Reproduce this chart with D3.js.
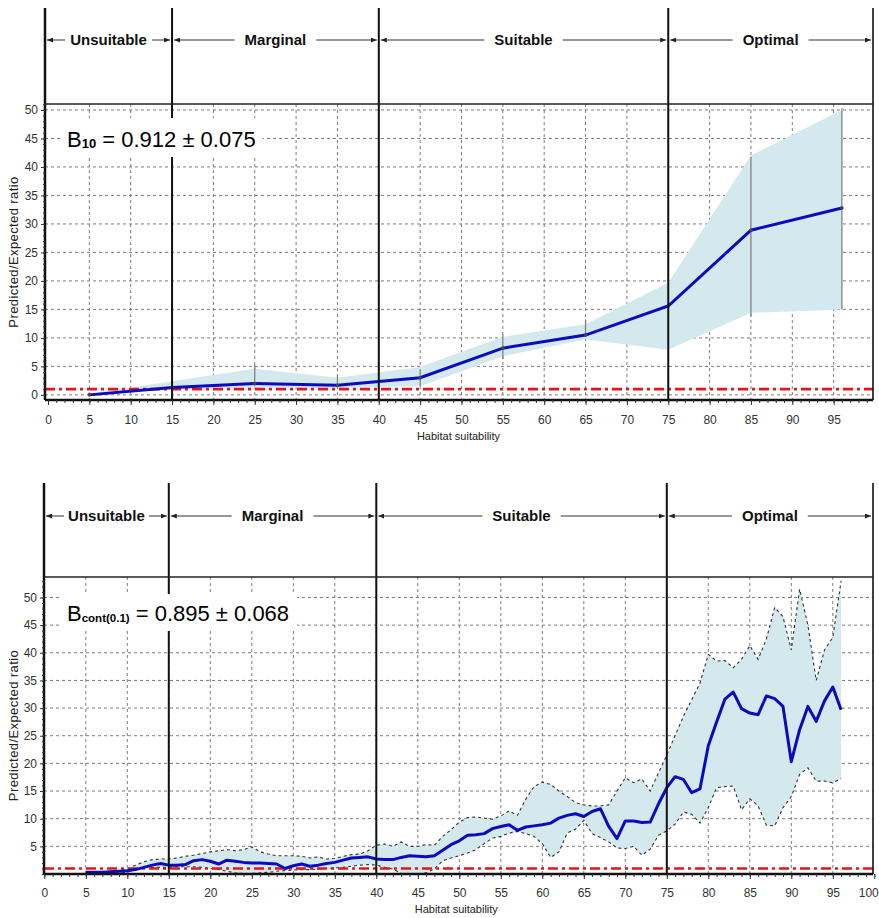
<!DOCTYPE html>
<html>
<head>
<meta charset="utf-8">
<style>
  body { margin: 0; background: #fff; }
  text { font-family: "Liberation Sans", Arial, sans-serif; }
</style>
</head>
<body>
<script src="https://d3js.org/d3.v7.min.js"></script>
<script>

// habitat zones along the suitability axis
var zoneNames  = ["Unsuitable", "Marginal", "Suitable", "Optimal"];
var zoneBreaks = [0, 15, 40, 75, 100];
var randomRatio = 1;   // P/E = 1 line

// upper panel: 10 classes
var binX      = [5, 15, 25, 35, 45, 55, 65, 75, 85, 96];
var binMean   = [0.0, 1.3, 2.0, 1.7, 3.0, 8.2, 10.5, 15.6, 28.9, 32.8];
var binBandHi = [0.2, 2.4, 4.6, 3.0, 4.9, 10.2, 12.4, 19.7, 42.0, 50.0];
var binBandLo = [0.0, 0.9, 1.3, 1.2, 1.5, 6.8, 9.7, 7.9, 14.4, 15.0];
var binErrHi  = [0.3, 2.2, 5.3, 3.4, 4.5, 10.6, 13.2, 15.6, 41.8, 50.3];
var binErrLo  = [0.0, 1.0, 1.5, 1.2, 1.5, 6.3, 10.5, 15.6, 13.8, 15.0];
var labelTop  = ["B", "10", " = 0.912 \u00b1 0.075"];

// lower panel: continuous (moving window)
var contX = [ 5,  6,  7,  8,  9, 10, 11, 12, 13, 14,
             15, 16, 17, 18, 19, 20, 21, 22, 23, 24,
             25, 26, 27, 28, 29, 30, 31, 32, 33, 34,
             35, 36, 37, 38, 39, 40, 41, 42, 43, 44,
             45, 46, 47, 48, 49, 50, 51, 52, 53, 54,
             55, 56, 57, 58, 59, 60, 61, 62, 63, 64,
             65, 66, 67, 68, 69, 70, 71, 72, 73, 74,
             75, 76, 77, 78, 79, 80, 81, 82, 83, 84,
             85, 86, 87, 88, 89, 90, 91, 92, 93, 94,
             95, 96];
var contMean = [0.3, 0.3, 0.3, 0.4, 0.5, 0.6, 0.8, 1.2, 1.6, 1.9,
                1.6, 1.6, 1.7, 2.4, 2.6, 2.3, 1.8, 2.5, 2.3, 2.1,
                2.0, 2.0, 1.9, 1.8, 1.0, 1.5, 1.8, 1.4, 1.6, 1.9,
                2.1, 2.5, 2.9, 3.0, 3.1, 2.7, 2.6, 2.6, 3.0, 3.3,
                3.2, 3.1, 3.3, 4.3, 5.3, 6.0, 7.0, 7.1, 7.3, 8.2,
                8.6, 8.9, 7.9, 8.5, 8.7, 8.9, 9.2, 10.1, 10.6, 10.9,
                10.4, 11.3, 11.8, 8.6, 6.4, 9.6, 9.6, 9.3, 9.4, 12.7,
                15.6, 17.6, 17.1, 14.7, 15.4, 23.2, 27.5, 31.6, 32.9, 29.9,
                29.1, 28.8, 32.2, 31.7, 30.3, 20.3, 26.1, 30.3, 27.6, 31.3,
                33.8, 29.7];
var contHi = [0.3, 0.3, 0.4, 0.5, 0.6, 0.9, 1.6, 2.2, 2.6, 2.7,
              2.7, 2.9, 3.2, 3.4, 3.7, 4.0, 4.2, 4.4, 4.2, 4.4,
              4.9, 4.0, 3.6, 3.3, 3.3, 3.3, 3.2, 2.9, 3.1, 2.7,
              2.8, 3.2, 3.5, 3.6, 4.2, 5.2, 5.4, 5.0, 5.8, 5.0,
              5.0, 5.3, 5.2, 6.8, 8.0, 9.4, 10.2, 10.3, 10.1, 9.9,
              10.5, 11.4, 10.6, 13.5, 15.8, 16.6, 16.2, 15.0, 14.0, 12.9,
              12.5, 12.3, 12.3, 12.5, 15.0, 17.4, 16.5, 17.2, 15.0, 18.3,
              21.5, 25.0, 28.5, 31.5, 34.5, 39.7, 38.5, 38.6, 37.3, 38.8,
              41.3, 38.8, 42.5, 48.2, 46.5, 40.5, 51.5, 45.0, 35.0, 40.5,
              42.8, 53.0];
var contLo = [0.1, 0.0, 0.1, 0.1, 0.2, 0.3, 0.9, 1.2, 1.2, 1.2,
              1.2, 1.3, 1.3, 1.3, 1.2, 1.0, 0.8, 0.5, 0.2, 0.1,
              0.1, 0.2, 0.3, 0.5, 0.6, 0.7, 0.8, 0.8, 0.9, 1.0,
              1.1, 1.2, 1.4, 1.6, 1.7, 1.6, 1.2, 0.9, 0.1, 0.0,
              0.0, 0.2, 0.9, 2.4, 2.9, 3.3, 3.8, 4.4, 5.5, 6.5,
              6.8, 7.4, 7.7, 7.3, 6.8, 5.5, 3.0, 4.0, 7.4, 8.1,
              9.7, 7.3, 6.6, 5.8, 4.7, 4.6, 5.0, 3.4, 4.5, 7.0,
              7.8, 9.0, 11.2, 10.8, 9.2, 12.0, 15.6, 15.8, 15.9, 11.6,
              13.6, 12.3, 8.8, 8.7, 12.0, 14.0, 18.0, 19.2, 16.8, 16.8,
              16.5, 17.2];
var labelBottom = ["B", "cont(0.1)", " = 0.895 \u00b1 0.068"];

var blue = "#0b0bbd", shade = "#d3e9ed", red = "#e8141a", ink = "#111";

var svg = d3.select("body").append("svg")
    .attr("width", 879)
    .attr("height", 918);

svg.append("defs").append("marker")
    .attr("id", "arr")
    .attr("markerUnits", "userSpaceOnUse")
    .attr("viewBox", "0 0 6 5")
    .attr("refX", 6).attr("refY", 2.5)
    .attr("markerWidth", 6).attr("markerHeight", 5)
    .attr("orient", "auto")
  .append("path")
    .attr("d", "M0,0L6,2.5L0,5Z")
    .attr("fill", "#222");

// builds the empty frame of one panel, returns layers and scales
function panel(p) {
	var x = d3.scaleLinear().domain([0, 100]).range(p.xRange);
	var y = d3.scaleLinear().domain(p.yDomain).range([p.bottom, p.top]);
	var g = svg.append("g");
	var grid = g.append("g"), data = g.append("g"), frame = g.append("g");

	grid.selectAll(".gx").data(d3.range(5, 100, 5)).enter().append("line")
		.attr("x1", d => x(d)).attr("x2", d => x(d))
		.attr("y1", p.top).attr("y2", p.bottom)
		.attr("stroke", "#7c7c7c").attr("stroke-dasharray", "3,3");
	grid.selectAll(".gy").data(p.yTicks).enter().append("line")
		.attr("x1", p.left).attr("x2", p.right)
		.attr("y1", d => y(d)).attr("y2", d => y(d))
		.attr("stroke", "#7c7c7c").attr("stroke-dasharray", "3,3");

	return {p: p, x: x, y: y, data: data, frame: frame};
}

function finish(P, label) {
	var p = P.p, x = P.x, y = P.y, f = P.frame;

	// zone dividers and header arrows
	f.append("line").attr("x1", p.left).attr("x2", p.left).attr("y1", p.headTop).attr("y2", p.bottom)
		.attr("stroke", ink).attr("stroke-width", 2.5);
	f.append("line").attr("x1", p.right).attr("x2", p.right).attr("y1", p.headTop).attr("y2", p.bottom)
		.attr("stroke", ink).attr("stroke-width", 1.6);
	f.selectAll(".zl").data(zoneBreaks.slice(1, -1)).enter().append("line")
		.attr("x1", d => x(d)).attr("x2", d => x(d))
		.attr("y1", p.headTop).attr("y2", p.bottom)
		.attr("stroke", ink).attr("stroke-width", 2);
	f.append("line").attr("x1", p.left).attr("x2", p.right).attr("y1", p.top).attr("y2", p.top)
		.attr("stroke", "#222").attr("stroke-width", 1.5);
	f.append("line").attr("x1", p.left).attr("x2", p.right).attr("y1", p.bottom).attr("y2", p.bottom)
		.attr("stroke", ink).attr("stroke-width", 2.5);

	zoneNames.forEach(function(name, i) {
		var a = i == 0 ? p.left : x(zoneBreaks[i]);
		var b = i == zoneNames.length - 1 ? p.right : x(zoneBreaks[i + 1]);
		var cx = (a + b) / 2;
		var t = f.append("text")
			.attr("x", cx).attr("y", p.arrowY + 5)
			.attr("text-anchor", "middle")
			.attr("font-weight", "bold").attr("font-size", 15)
			.attr("fill", "#111").text(name);
		var w = t.node().getComputedTextLength();
		var gap = Math.min(10, (b - a - w) / 2 - 20);
		f.append("line").attr("x1", cx - w / 2 - gap).attr("x2", a + 2)
			.attr("y1", p.arrowY).attr("y2", p.arrowY)
			.attr("stroke", "#333").attr("marker-end", "url(#arr)");
		f.append("line").attr("x1", cx + w / 2 + gap).attr("x2", b - 2)
			.attr("y1", p.arrowY).attr("y2", p.arrowY)
			.attr("stroke", "#333").attr("marker-end", "url(#arr)");
	});

	// axes
	var xa = f.append("g").attr("transform", "translate(0," + p.bottom + ")")
		.call(d3.axisBottom(x).tickValues(p.xTicks).tickSize(5).tickPadding(p.xPad));
	var xm = f.append("g").attr("transform", "translate(0," + p.bottom + ")")
		.call(d3.axisBottom(x).tickValues(d3.range(0, p.xMinorMax + 1)).tickSize(3).tickFormat(""));
	var ya = f.append("g").attr("transform", "translate(" + p.left + ",0)")
		.call(d3.axisLeft(y).tickValues(p.yTicks).tickSize(4).tickPadding(3));
	var ym = f.append("g").attr("transform", "translate(" + p.left + ",0)")
		.call(d3.axisLeft(y).tickValues(d3.range(0, Math.floor(p.yDomain[1]) + 1)).tickSize(2).tickFormat(""));
	[xa, xm, ya, ym].forEach(function(a) {
		a.select(".domain").remove();
		a.selectAll("line").attr("stroke", "#333");
		a.selectAll("text").attr("fill", "#333").attr("font-size", 12)
			.attr("font-family", "\"Liberation Sans\", Arial, sans-serif");
	});
	// last label sits at the window edge: keep it inside
	xa.selectAll(".tick text").filter(d => d == 100).attr("text-anchor", "end").attr("dx", 4);

	f.append("text")
		.attr("x", (x(0) + x(100)) / 2 - 3).attr("y", p.titleY)
		.attr("text-anchor", "middle").attr("font-size", 11).attr("fill", "#222")
		.text("Habitat suitability");
	f.append("text")
		.attr("transform", "translate(18," + (p.top + p.bottom) / 2 + ") rotate(-90)")
		.attr("text-anchor", "middle").attr("font-size", 13).attr("letter-spacing", 0.4)
		.attr("fill", "#222")
		.text("Predicted/Expected ratio");

	// index value box
	f.append("rect").attr("x", p.box[0]).attr("y", p.box[1])
		.attr("width", p.box[2]).attr("height", p.box[3]).attr("fill", "#fff");
	var lt = f.append("text").attr("x", 67).attr("y", p.box[1] + p.box[3] - 10)
		.attr("font-size", 22).attr("fill", "#000");
	lt.append("tspan").text(label[0]);
	lt.append("tspan").attr("font-size", p.subSize).attr("font-weight", "bold").attr("dy", 1).text(label[1]);
	lt.append("tspan").attr("dy", -1).text(label[2]);
}

// ---------- upper panel ----------
var T = panel({
	headTop: 8, arrowY: 40, top: 104, bottom: 400, left: 45, right: 873,
	xRange: [48, 875], yDomain: [-0.9, 51.05],
	yTicks: d3.range(0, 51, 5), xTicks: d3.range(0, 96, 5), xMinorMax: 99, xPad: 10,
	titleY: 440, box: [60, 118, 203, 39], subSize: 13
});

var band = d3.area()
	.x((d, i) => T.x(binX[i]))
	.y0((d, i) => T.y(binBandLo[i]))
	.y1((d, i) => T.y(binBandHi[i]));
T.data.append("path").datum(binMean).attr("d", band).attr("fill", shade);

T.data.selectAll(".err").data(binX).enter().append("line")
	.attr("x1", d => T.x(d)).attr("x2", d => T.x(d))
	.attr("y1", (d, i) => T.y(binErrLo[i])).attr("y2", (d, i) => T.y(binErrHi[i]))
	.attr("stroke", "#7a7a7a").attr("stroke-width", 1.2);

T.data.append("line").attr("x1", T.p.left).attr("x2", T.p.right)
	.attr("y1", T.y(randomRatio)).attr("y2", T.y(randomRatio))
	.attr("stroke", red).attr("stroke-width", 2.6).attr("stroke-dasharray", "10,4,3,4");

T.data.append("path").datum(binMean)
	.attr("d", d3.line().x((d, i) => T.x(binX[i])).y(d => T.y(d)))
	.attr("fill", "none").attr("stroke", blue).attr("stroke-width", 3);

T.data.selectAll(".pt").data(binMean).enter().append("circle")
	.attr("cx", (d, i) => T.x(binX[i])).attr("cy", d => T.y(d)).attr("r", 1.8)
	.attr("fill", "#444");

finish(T, labelTop);

// ---------- lower panel ----------
var B = panel({
	headTop: 483, arrowY: 516, top: 577, bottom: 874, left: 44, right: 873,
	xRange: [44.3, 874.3], yDomain: [0, 53.7],
	yTicks: d3.range(5, 51, 5), xTicks: d3.range(0, 101, 5), xMinorMax: 100, xPad: 9,
	titleY: 913, box: [60, 594, 237, 37], subSize: 11.5
});

var cband = d3.area()
	.x((d, i) => B.x(contX[i]))
	.y0((d, i) => B.y(contLo[i]))
	.y1((d, i) => B.y(contHi[i]));
B.data.append("path").datum(contMean).attr("d", cband).attr("fill", shade);

[contHi, contLo].forEach(function(s) {
	B.data.append("path").datum(s)
		.attr("d", d3.line().x((d, i) => B.x(contX[i])).y(d => B.y(d)))
		.attr("fill", "none").attr("stroke", "#333").attr("stroke-width", 1.1)
		.attr("stroke-dasharray", "3,3");
});

B.data.append("line").attr("x1", B.p.left).attr("x2", B.p.right)
	.attr("y1", B.y(randomRatio)).attr("y2", B.y(randomRatio))
	.attr("stroke", red).attr("stroke-width", 2.6).attr("stroke-dasharray", "10,4,3,4");

B.data.append("path").datum(contMean)
	.attr("d", d3.line().x((d, i) => B.x(contX[i])).y(d => B.y(d)))
	.attr("fill", "none").attr("stroke", blue).attr("stroke-width", 3)
	.attr("stroke-linejoin", "round");

finish(B, labelBottom);

</script>
</body>
</html>
